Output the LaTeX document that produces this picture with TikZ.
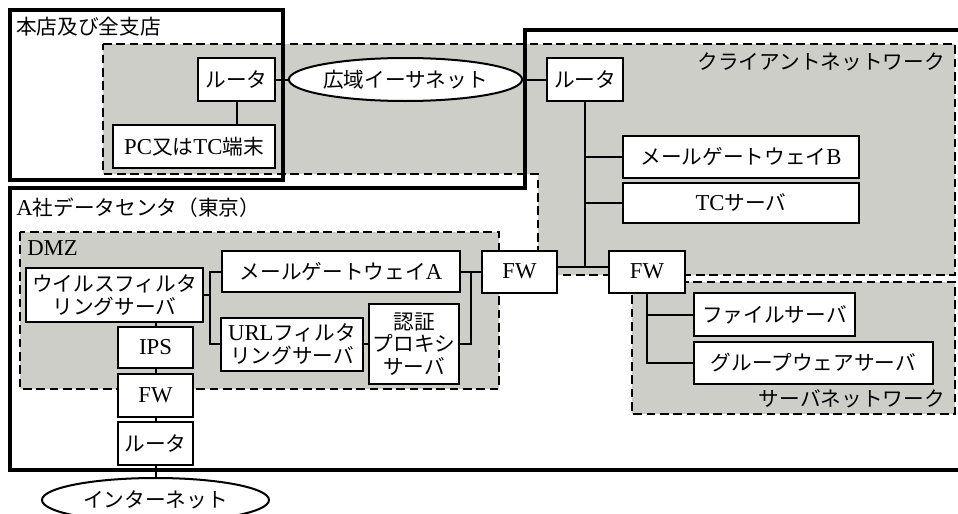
\documentclass[tikz,border=0pt]{standalone}
\usepackage{fontspec}
\setmainfont{Noto Sans CJK JP}
\newfontfamily\latfont[Scale=1.1]{Liberation Serif}
\usetikzlibrary{shapes.geometric}
\definecolor{netgray}{RGB}{206,206,201}
\newcommand{\La}[1]{{\latfont #1}}
\begin{document}
\begin{tikzpicture}[x=0.75pt,y=-0.75pt,
  font=\fontsize{15.5}{17}\selectfont,
  box/.style 2 args={draw, fill=white, line width=1.5pt, inner sep=0pt,
    minimum width=#1*0.75pt, minimum height=#2*0.75pt, align=center},
  ell/.style 2 args={ellipse, draw, fill=white, line width=1.5pt, inner sep=0pt,
    minimum width=#1*0.75pt, minimum height=#2*0.75pt},
  region/.style={draw, fill=netgray, line width=1.3pt, dash pattern=on 6.5pt off 3.5pt},
  wall/.style={line width=3pt},
  conn/.style={line width=1.5pt},
  lbl/.style={inner sep=0pt}]
\useasboundingbox (0,0) rectangle (958,514);
\clip (0,0) rectangle (958,514);
% network regions
\draw[region] (103,44) -- (955,44) -- (955,275) -- (538,275) -- (538,174) -- (103,174) -- cycle;
\draw[region] (20,232) rectangle (499,389);
\draw[region] (632,282) rectangle (955,414);
% site outlines
\draw[wall] (10,10) rectangle (283,180);
\draw[wall] (10,188) -- (525,188) -- (525,30) -- (995,30) -- (995,470) -- (10,470) -- cycle;
% labels
\node[lbl, anchor=west] (lhq) at (16,27) {本店及び全支店};
\node[lbl, anchor=east] (lcl) at (945,62) {クライアントネットワーク};
\node[lbl, anchor=west] (ldc) at (16,208) {\La{A}社データセンタ（東京）};
\node[lbl, anchor=west] (ldmz) at (27,248) {\La{DMZ}};
\node[lbl, anchor=east] (lsv) at (945,399) {サーバネットワーク};
% nodes
\node[box={77}{43}] (r1) at (236.5,79.5) {ルータ};
\node[box={162}{43}] (pc) at (194,146.5) {\La{PC}又は\La{TC}端末};
\node[ell={225}{43}] (wan) at (405.5,79.5) {広域イーサネット};
\node[box={76}{43}] (r2) at (585,79.5) {ルータ};
\node[box={236}{42}] (mgb) at (741,157) {メールゲートウェイ\La{B}};
\node[box={236}{40}] (tcs) at (741,202.5) {\La{TC}サーバ};
\node[box={177}{54}] (vir) at (114.5,295) {ウイルスフィルタ\\リングサーバ};
\node[box={75}{41}] (ips) at (155.5,347.5) {\La{IPS}};
\node[box={75}{43}] (fw3) at (155.5,395.5) {\La{FW}};
\node[box={75}{43}] (r3) at (155.5,443.5) {ルータ};
\node[ell={227}{44}] (inet) at (155.5,500) {インターネット};
\node[box={238}{41}] (mga) at (341,271.5) {メールゲートウェイ\La{A}};
\node[box={142}{53}] (url) at (292,344) {\La{URL}フィルタ\\リングサーバ};
\node[box={90}{80}] (auth) at (414,344) {認証\\プロキシ\\サーバ};
\node[box={75}{42}] (fw1) at (519.5,271.5) {\La{FW}};
\node[box={76}{42}] (fw2) at (647,271.5) {\La{FW}};
\node[box={161}{43}] (file) at (774.5,314.5) {ファイルサーバ};
\node[box={239}{42}] (grp) at (813.5,363) {グループウェアサーバ};
% connectors
\coordinate (j) at (585,267);
\coordinate (b1) at (210,271.5);
\coordinate (b2) at (471,271.5);
\draw[conn] (r1.south) -- (pc.north -| r1.south);
\draw[conn] (r1.east) -- (wan.west);
\draw[conn] (wan.east) -- (r2.west);
\draw[conn] (r2.south) -- (j);
\draw[conn] (fw1.east |- j) -- (fw2.west |- j);
\draw[conn] (mgb.west -| j) -- (mgb.west);
\draw[conn] (tcs.west -| j) -- (tcs.west);
\draw[conn] (mga.west) -- (b1) |- (url.west);
\draw[conn] (vir.east) -- (vir.east -| b1);
\draw[conn] (url.east) -- (auth.west);
\draw[conn] (mga.east) -- (fw1.west);
\draw[conn] (auth.east) -| (b2);
\draw[conn] (ips.north |- vir.south) -- (ips.north);
\draw[conn] (ips.south) -- (fw3.north);
\draw[conn] (fw3.south) -- (r3.north);
\draw[conn] (r3.south) -- (inet.north);
\draw[conn] (fw2.south) |- (grp.west);
\draw[conn] (fw2.south |- file.west) -- (file.west);
\end{tikzpicture}
\end{document}
